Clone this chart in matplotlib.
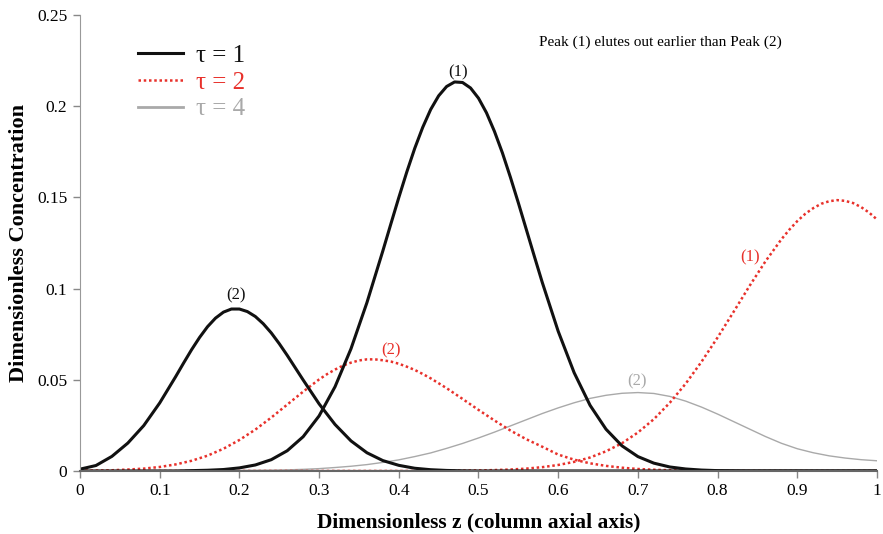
import matplotlib
matplotlib.use("Agg")
import matplotlib.pyplot as plt
import numpy as np

plt.rcParams["font.family"] = ["Liberation Serif", "DejaVu Serif"]

# ---- data (z, concentration) ----
# tau = 1, peak (2)
tau1_p2_z = [0, .02, .04, .06, .08, .10, .12, .13, .14, .15, .16, .17, .18, .19, .20, .21, .22,
             .23, .24, .25, .26, .28, .30, .32, .34, .36, .38, .40, .42, .44, .46, .48, .50, 1.0]
tau1_p2_c = [.001, .003, .008, .0153, .0249, .0373, .0517, .0592, .0665, .0732, .0791, .0838,
             .0871, .0888, .0888, .0874, .0847, .0807, .0757, .0698, .0634, .0499, .0368, .0255,
             .0165, .0100, .0057, .0031, .0015, .0007, .0003, .0001, 0, 0]

# tau = 1, peak (1)
tau1_p1_z = [0, .12, .14, .16, .18, .20, .22, .24, .26, .28, .30, .32, .34, .36, .38, .39, .40,
             .41, .42, .43, .44, .45, .46, .47, .48, .49, .50, .51, .52, .53, .54, .55, .56, .57,
             .58, .60, .62, .64, .66, .68, .70, .72, .74, .76, .78, .80, .84, 1.0]
tau1_p1_c = [0, 0, .0002, .0004, .0008, .0017, .0033, .0062, .0111, .0188, .0302, .0462, .0670,
             .0923, .1207, .1354, .1499, .1639, .1769, .1884, .1982, .2057, .2108, .2133, .2130,
             .2100, .2044, .1964, .1862, .1744, .1611, .1470, .1324, .1178, .1034, .0766, .0539,
             .0360, .0229, .0138, .0079, .0043, .0022, .0011, .0005, .0002, 0, 0]

# tau = 2, peak (2)
tau2_p2_z = [0, .02, .04, .06, .08, .10, .12, .14, .16, .18, .20, .22, .24, .26, .28, .30, .31,
             .32, .33, .34, .35, .36, .37, .38, .39, .40, .41, .42, .43, .44, .46, .48, .50, .52,
             .54, .56, .58, .60, .62, .64, .66, .68, .70, .72, .74, .76, .78, .80, 1.0]
tau2_p2_c = [.0001, .0002, .0004, .0008, .0013, .0022, .0036, .0056, .0084, .0122, .0170, .0227,
             .0293, .0364, .0435, .0502, .0531, .0556, .0578, .0594, .0606, .0612, .0612, .0607,
             .0600, .0588, .0572, .0554, .0532, .0508, .0454, .0395, .0335, .0277, .0222, .0174,
             .0133, .0090, .0062, .0042, .0028, .0018, .0011, .0007, .0004, .0002, .0001, 0, 0]

# tau = 2, peak (1)
tau2_p1_z = [0, .44, .46, .48, .50, .52, .54, .56, .58, .60, .62, .64, .66, .68, .70, .72, .74,
             .76, .78, .80, .82, .84, .86, .88, .89, .90, .91, .92, .93, .94, .95, .96, .97, .98,
             .99, 1.0]
tau2_p1_c = [0, 0, .0001, .0002, .0003, .0005, .0008, .0013, .0021, .0033, .0050, .0074, .0108,
             .0152, .0211, .0284, .0374, .0479, .0600, .0732, .0872, .1014, .1149, .1270, .1323,
             .1370, .1410, .1441, .1465, .1479, .1485, .1481, .1469, .1447, .1417, .1379]

# tau = 4, peak (2); peak (1) is still inside the column
tau4_p2_z = [0, .16, .18, .20, .22, .24, .26, .28, .30, .32, .34, .36, .38, .40, .42, .44, .46,
             .48, .50, .52, .54, .56, .58, .60, .62, .64, .66, .68, .70, .72, .74, .76, .78, .80,
             .82, .84, .86, .88, .90, .92, .94, .96, .98, 1.0]
tau4_p2_c = [0, 0, .0001, .0002, .0003, .0004, .0006, .0009, .0013, .0019, .0026, .0035, .0047,
             .0061, .0079, .0099, .0124, .0151, .0181, .0213, .0247, .0281, .0315, .0346, .0374,
             .0398, .0415, .0426, .0430, .0425, .0409, .0383, .0350, .0312, .0271, .0230, .0189,
             .0152, .0122, .0100, .0083, .0071, .0062, .0056]
tau4_p1_z = [0, 1.0]
tau4_p1_c = [0, 0]

labels = ["\u03c4 = 1", "\u03c4 = 2", "\u03c4 = 4"]
BLACK = "#111111"
RED = "#e8312b"
GREY = "#a9a9a9"
DOTS = (0, (1, 1.1))

fig = plt.figure(figsize=(8.83, 5.34), dpi=100)
ax = fig.add_axes([0.0906, 0.118, 0.9026, 0.8539])

ax.plot(tau4_p2_z, tau4_p2_c, color=GREY, lw=1.0, label=labels[2])
ax.plot(tau4_p1_z, tau4_p1_c, color="#777777", lw=1.6)
ax.plot(tau2_p2_z, tau2_p2_c, color=RED, lw=1.8, ls=DOTS)
ax.plot(tau2_p1_z, tau2_p1_c, color=RED, lw=1.8, ls=DOTS, label=labels[1])
ax.plot(tau1_p2_z, tau1_p2_c, color=BLACK, lw=2.2, label=labels[0])
ax.plot(tau1_p1_z, tau1_p1_c, color=BLACK, lw=2.2)

ax.set_xlim(0, 1)
ax.set_ylim(0, 0.25)
ax.set_xticks(np.arange(0, 1.01, 0.1))
ax.set_xticklabels(["0", "0.1", "0.2", "0.3", "0.4", "0.5", "0.6", "0.7", "0.8", "0.9", "1"])
ax.set_yticks([0, 0.05, 0.1, 0.15, 0.2, 0.25])
ax.set_yticklabels(["0", "0.05", "0.1", "0.15", "0.2", "0.25"])
ax.tick_params(axis="both", labelsize=12.5, length=5, width=1, color="#888888", pad=4)
ax.spines[["top", "right"]].set_visible(False)
ax.spines["left"].set_color("#999999")
ax.spines["bottom"].set_color("#666666")
ax.spines["bottom"].set_linewidth(1.5)

ax.set_xlabel("Dimensionless z (column axial axis)", fontsize=15.5, fontweight="bold", labelpad=9)
ax.set_ylabel("Dimensionless Concentration", fontsize=16, fontweight="bold", labelpad=6)

# peak labels
ax.text(0.474, 0.2188, "(1)", color=BLACK, fontsize=12, ha="center", va="center")
ax.text(0.196, 0.0965, "(2)", color=BLACK, fontsize=12, ha="center", va="center")
ax.text(0.390, 0.0663, "(2)", color=RED, fontsize=12, ha="center", va="center")
ax.text(0.841, 0.1170, "(1)", color=RED, fontsize=12, ha="center", va="center")
ax.text(0.699, 0.0493, "(2)", color=GREY, fontsize=12, ha="center", va="center")
ax.text(0.728, 0.2352, "Peak (1) elutes out earlier than Peak (2)", fontsize=11,
        ha="center", va="center")

handles, labs = ax.get_legend_handles_labels()
order = [labs.index(l) for l in labels]
leg = ax.legend([handles[i] for i in order], labels, loc="upper left",
                bbox_to_anchor=(0.045, 0.985), frameon=False, fontsize=18,
                handlelength=1.8, handletextpad=0.5, labelspacing=0.17,
                labelcolor=[BLACK, RED, GREY])
leg.get_lines()[2].set_linewidth(2.0)

fig.savefig("out.png", dpi=100)
